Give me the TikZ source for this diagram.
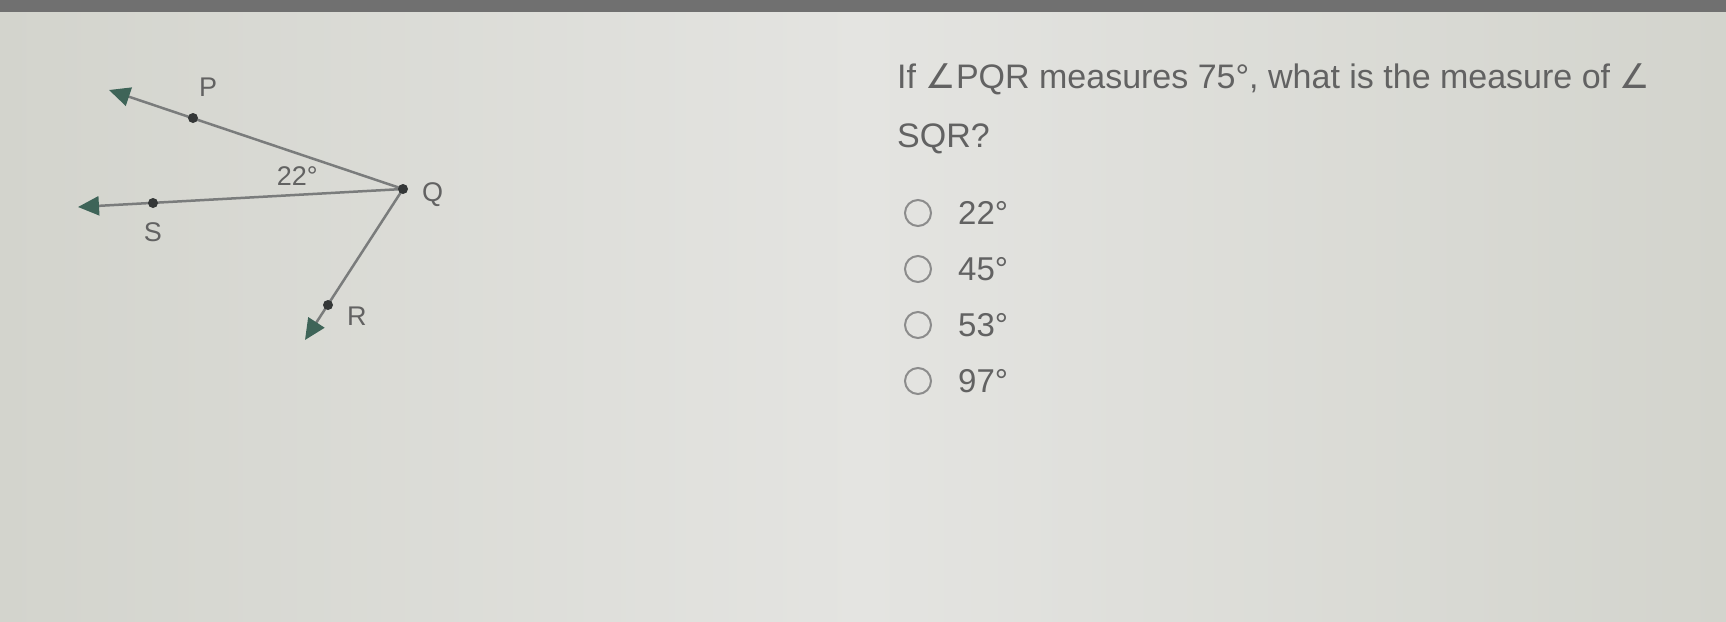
\documentclass[tikz,border=0pt]{standalone}
\usepackage{fontspec}
\setmainfont{Liberation Sans}
\newfontfamily\angfont{DejaVu Sans}
\usetikzlibrary{positioning,arrows.meta}

\definecolor{bgmid}{RGB}{228,228,225}
\definecolor{bgside}{RGB}{211,212,205}
\definecolor{band}{RGB}{112,112,112}
\definecolor{txt}{RGB}{98,98,98}
\definecolor{raycol}{RGB}{122,124,124}
\definecolor{tipcol}{RGB}{62,100,88}
\definecolor{dotcol}{RGB}{52,55,55}
\definecolor{radiocol}{RGB}{140,140,140}

\begin{document}
\begin{tikzpicture}[x=1pt,y=-1pt,
  dot/.style={circle,fill=dotcol,inner sep=0pt,minimum size=10pt},
  ray/.style={draw=raycol,line width=2.5pt,-{Triangle[length=21pt,width=19pt,color=tipcol,fill=tipcol]}},
  lbl/.style={text=txt,font=\fontsize{27}{30}\selectfont,inner sep=0pt},
  question/.style={text=txt,font=\fontsize{34}{40}\selectfont,inner sep=0pt,anchor=base west},
  radio/.style={circle,draw=radiocol,line width=2pt,minimum size=26pt,inner sep=0pt,on grid},
  choice/.style={text=txt,font=\fontsize{33}{40}\selectfont,inner sep=0pt,right=26pt of #1},
]
\useasboundingbox (0,0) rectangle (1726,621);
\shade[left color=bgside,right color=bgside,middle color=bgmid] (0,0) rectangle (1726,621);
\fill[band] (0,0) rectangle (1726,12);

% the three rays from Q
\coordinate (Q) at (403,189);
\coordinate (P) at (193,118);
\coordinate (S) at (153,203);
\coordinate (R) at (328,305);
\coordinate (Pend) at (109,90);
\coordinate (Send) at (78,207);
\coordinate (Rend) at (305,340);
\draw[ray] (Q) -- (Pend);
\draw[ray] (Q) -- (Send);
\draw[ray] (Q) -- (Rend);
\node[dot] at (P) {};
\node[dot] at (S) {};
\node[dot] at (R) {};
\node[dot] at (Q) {};

\node[lbl] (Plbl) [above right=21pt and 6pt of P] {P};
\node[lbl] (Qlbl) [right=19pt of Q,yshift=-6pt] {Q};
\node[lbl] (Slbl) [below=19pt of S] {S};
\node[lbl] (Rlbl) [below right=2pt and 19pt of R] {R};
\node[lbl] (ang) [left=85pt of Q,yshift=13pt] {22°};

% question and choices
\node[question] (line1) at (897,88) {If {\angfont ∠}PQR measures 75°, what is the measure of {\angfont ∠}};
\node[question] (line2) at (897,147) {SQR?};

\node[radio] (c1) at (918,213) {};
\node[radio] (c2) [below=56pt of c1] {};
\node[radio] (c3) [below=56pt of c2] {};
\node[radio] (c4) [below=56pt of c3] {};
\node[choice=c1] (a1) {22°};
\node[choice=c2] (a2) {45°};
\node[choice=c3] (a3) {53°};
\node[choice=c4] (a4) {97°};
\end{tikzpicture}
\end{document}
